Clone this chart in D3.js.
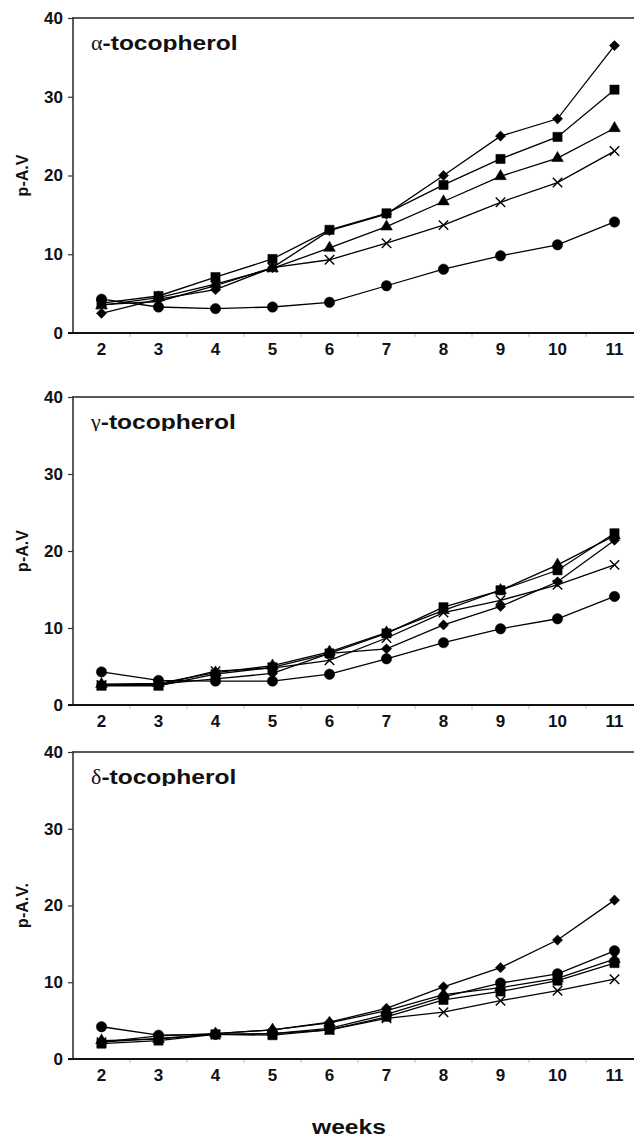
<!DOCTYPE html>
<html>
<head>
<meta charset="utf-8">
<script src="https://cdn.jsdelivr.net/npm/d3@7"></script>
<style>
  body { margin: 0; background: #fff; }
  svg { display: block; }
  text { font-family: Arial, "Liberation Sans", sans-serif; font-weight: bold; fill: #111; }
</style>
</head>
<body>
<svg id="chart"></svg>
<script>
const width = 634;
const height = 1138;

// x categories (weeks)
const weeks = [2, 3, 4, 5, 6, 7, 8, 9, 10, 11];
const yTicks = [0, 10, 20, 30, 40];

// alpha-tocopherol
const alphaDiamond  = [2.5, 4.3, 5.5, 8.3, 13.0, 15.1, 20.0, 25.0, 27.2, 36.5];
const alphaSquare   = [3.8, 4.7, 7.1, 9.4, 13.1, 15.2, 18.8, 22.1, 24.9, 30.9];
const alphaTriangle = [3.5, 4.5, 6.2, 8.2, 10.8, 13.5, 16.7, 19.9, 22.2, 26.0];
const alphaCross    = [3.6, 4.0, 6.0, 8.3, 9.3, 11.4, 13.7, 16.6, 19.1, 23.1];
const alphaCircle   = [4.3, 3.3, 3.1, 3.3, 3.9, 6.0, 8.1, 9.8, 11.2, 14.1];

// gamma-tocopherol
const gammaDiamond  = [2.6, 2.7, 3.4, 4.1, 6.7, 7.3, 10.4, 12.8, 16.0, 21.4];
const gammaSquare   = [2.5, 2.5, 4.0, 4.9, 6.7, 9.3, 12.7, 14.9, 17.5, 22.3];
const gammaTriangle = [2.7, 2.8, 4.2, 5.1, 6.9, 9.4, 12.3, 14.9, 18.2, 22.0];
const gammaCross    = [2.6, 2.6, 4.4, 4.8, 5.8, 8.7, 12.0, 13.6, 15.6, 18.2];
const gammaCircle   = [4.3, 3.2, 3.1, 3.1, 4.0, 6.0, 8.1, 9.9, 11.2, 14.1];

// delta-tocopherol
const deltaDiamond  = [2.2, 3.0, 3.3, 3.8, 4.8, 6.6, 9.4, 11.9, 15.5, 20.7];
const deltaSquare   = [2.0, 2.4, 3.2, 3.1, 3.8, 5.5, 7.7, 8.8, 10.2, 12.5];
const deltaTriangle = [2.4, 2.6, 3.3, 3.8, 4.7, 6.3, 8.4, 9.3, 10.5, 13.0];
const deltaCross    = [2.2, 2.7, 3.2, 3.3, 3.8, 5.3, 6.1, 7.6, 8.9, 10.4];
const deltaCircle   = [4.2, 3.1, 3.2, 3.3, 4.0, 5.8, 8.1, 9.9, 11.1, 14.1];

const panels = [
  { letter: "α", label: "p-A.V",  top: 18,  bottom: 333,
    series: [["diamond", alphaDiamond], ["square", alphaSquare], ["triangle", alphaTriangle], ["cross", alphaCross], ["circle", alphaCircle]] },
  { letter: "γ", label: "p-A.V",  top: 397, bottom: 705,
    series: [["diamond", gammaDiamond], ["square", gammaSquare], ["triangle", gammaTriangle], ["cross", gammaCross], ["circle", gammaCircle]] },
  { letter: "δ", label: "p-A.V.", top: 752, bottom: 1059,
    series: [["diamond", deltaDiamond], ["square", deltaSquare], ["triangle", deltaTriangle], ["cross", deltaCross], ["circle", deltaCircle]] }
];

const svg = d3.select("#chart")
  .attr("width", width)
  .attr("height", height)
  .attr("viewBox", `0 0 ${width} ${height}`);

const left = 73;
const right = 643;

const xScale = d3.scaleBand()
  .domain(weeks)
  .range([left, right]);
const xc = d => xScale(d) + xScale.bandwidth() / 2;

// marker shapes
const symbols = {
  diamond: d3.symbol().type(d3.symbolSquare).size(52),
  square: d3.symbol().type(d3.symbolSquare).size(85),
  triangle: d3.symbol().type(d3.symbolTriangle).size(60),
  cross: d3.symbol().type(d3.symbolTimes).size(60),
  circle: d3.symbol().type(d3.symbolCircle).size(85)
};

panels.forEach((p, i) => {
  const yScale = d3.scaleLinear()
    .domain([0, 40])
    .range([p.bottom, p.top]);

  const g = svg.append("g");

  // frame top line
  g.append("line")
    .attr("x1", left).attr("x2", width)
    .attr("y1", p.top).attr("y2", p.top)
    .attr("stroke", "#222").attr("stroke-width", 1.6);

  // y axis
  const yAxis = d3.axisLeft(yScale)
    .tickValues(yTicks)
    .tickSize(5)
    .tickPadding(5);

  const yAxisG = g.append("g")
    .attr("transform", `translate(${left},0)`)
    .call(yAxis);
  yAxisG.select(".domain").remove();
  yAxisG.selectAll(".tick line").attr("stroke", "#333").attr("stroke-width", 1.2);
  yAxisG.selectAll("text")
    .style("font-size", "17px")
    .style("font-weight", "bold")
    .style("font-family", "Arial, 'Liberation Sans', sans-serif")
    .attr("fill", "#111");

  g.append("line")
    .attr("x1", left).attr("x2", left)
    .attr("y1", p.top - 1).attr("y2", p.bottom + 1)
    .attr("stroke", "#333").attr("stroke-width", 1.6);

  // x axis line
  g.append("line")
    .attr("x1", left - 5).attr("x2", width)
    .attr("y1", p.bottom).attr("y2", p.bottom)
    .attr("stroke", "#111").attr("stroke-width", 2);

  // faint tick marks between categories
  g.selectAll(".xtick")
    .data(weeks.slice(1))
    .enter()
    .append("line")
    .attr("x1", d => xScale(d)).attr("x2", d => xScale(d))
    .attr("y1", p.bottom + 1).attr("y2", p.bottom + 4)
    .attr("stroke", "#bbb").attr("stroke-width", 1);

  // x tick labels
  g.selectAll(".xlabel")
    .data(weeks)
    .enter()
    .append("text")
    .attr("x", d => xc(d))
    .attr("y", p.bottom + 22)
    .attr("text-anchor", "middle")
    .style("font-size", "17px")
    .text(d => d);

  // y axis label
  g.append("text")
    .attr("transform", `translate(28,${(p.top + p.bottom) / 2}) rotate(-90)`)
    .attr("text-anchor", "middle")
    .style("font-size", "16px")
    .text(p.label);

  // panel title, descenders clipped like the original
  svg.append("clipPath")
    .attr("id", `clip-title-${i}`)
    .append("rect")
    .attr("x", 80).attr("y", p.top)
    .attr("width", 300).attr("height", 34);

  const title = g.append("text")
    .attr("x", 91)
    .attr("y", p.top + 32)
    .attr("clip-path", `url(#clip-title-${i})`)
    .style("font-size", "20px");
  title.append("tspan")
    .style("font-family", "'Liberation Serif', 'DejaVu Serif', serif")
    .style("font-weight", "normal")
    .style("font-size", "22px")
    .text(p.letter);
  title.append("tspan")
    .attr("textLength", 135)
    .attr("lengthAdjust", "spacingAndGlyphs")
    .text("-tocopherol");

  // lines
  const lineGenerator = d3.line()
    .x((d, k) => xc(weeks[k]))
    .y(d => yScale(d));

  p.series.forEach(([shape, values]) => {
    g.append("path")
      .datum(values)
      .attr("fill", "none")
      .attr("stroke", "#000")
      .attr("stroke-width", 1.3)
      .attr("d", lineGenerator);

    g.selectAll(null)
      .data(values)
      .enter()
      .append("path")
      .attr("d", symbols[shape])
      .attr("transform", (d, k) => `translate(${xc(weeks[k])},${yScale(d)})${shape === "diamond" ? " rotate(45)" : ""}`)
      .attr("fill", shape === "cross" ? "none" : "#000")
      .attr("stroke", "#000")
      .attr("stroke-width", shape === "cross" ? 1.4 : 0.5);
  });
});

// shared x axis title
svg.append("text")
  .attr("x", 349)
  .attr("y", 1134)
  .attr("text-anchor", "middle")
  .attr("textLength", 74)
  .attr("lengthAdjust", "spacingAndGlyphs")
  .style("font-size", "20px")
  .text("weeks");
</script>
</body>
</html>
